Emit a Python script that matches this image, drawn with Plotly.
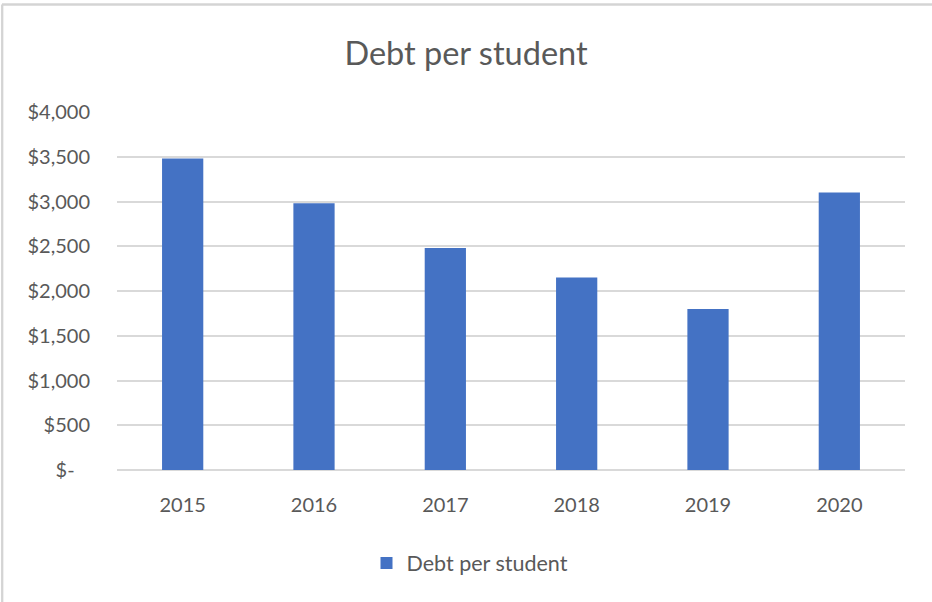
import plotly.graph_objects as go

# Chart data
years = ["2015", "2016", "2017", "2018", "2019", "2020"]
debt_per_student = [3480, 2980, 2480, 2150, 1800, 3100]

# Axis ticks (accounting-style currency labels)
y_tick_values = [0, 500, 1000, 1500, 2000, 2500, 3000, 3500, 4000]
y_tick_labels = ["$-\u00a0\u00a0\u00a0", "$500", "$1,000", "$1,500", "$2,000",
                 "$2,500", "$3,000", "$3,500", "$4,000"]

W, H = 932, 602
M_L, M_R, M_T, M_B = 117, 27, 112, 132
PLOT_W = W - M_L - M_R
PLOT_H = H - M_T - M_B

FONT = "Lato"
TEXT = "#595959"
GRID = "#D9D9D9"
BAR = "#4472C4"


def px_x(px):
    return (px - M_L) / PLOT_W


def px_y(py):
    return (H - M_B - py) / PLOT_H


fig = go.Figure(
    go.Bar(
        x=years,
        y=debt_per_student,
        name="Debt per student",
        marker=dict(color=BAR, line=dict(width=0)),
    )
)

fig.update_layout(
    width=W,
    height=H,
    margin=dict(l=M_L, r=M_R, t=M_T, b=M_B, pad=0),
    paper_bgcolor="white",
    plot_bgcolor="white",
    font=dict(family=FONT, color=TEXT, size=20),
    bargap=0.686,
    title=dict(
        text="Debt per student",
        font=dict(family=FONT, size=32.5, color=TEXT),
        x=0.5, xref="container", xanchor="center",
        y=1 - 54 / H, yref="container", yanchor="middle",
    ),
    showlegend=True,
    legend=dict(
        orientation="h",
        x=0.5 + 4 / W, xref="container", xanchor="center",
        y=1 - 563 / H, yref="container", yanchor="middle",
        font=dict(family=FONT, size=21.5, color=TEXT),
        bgcolor="rgba(0,0,0,0)",
    ),
    xaxis=dict(
        showgrid=False,
        showline=False,
        ticks="",
        tickfont=dict(family=FONT, size=20, color=TEXT),
        ticklabelstandoff=21,
    ),
    yaxis=dict(
        range=[0, 4000],
        tickvals=y_tick_values,
        ticktext=y_tick_labels,
        showgrid=True,
        gridcolor=GRID,
        gridwidth=1.5,
        zeroline=True,
        zerolinecolor=GRID,
        zerolinewidth=1.5,
        showline=False,
        ticks="",
        tickfont=dict(family=FONT, size=20, color=TEXT),
        ticklabelstandoff=26,
    ),
    shapes=[
        # chart-area frame (top and left edges)
        dict(type="line", xref="paper", yref="paper",
             x0=px_x(2), x1=px_x(W + 5), y0=px_y(4.5), y1=px_y(4.5),
             line=dict(color="#D4D4D4", width=2.3), layer="above"),
        dict(type="line", xref="paper", yref="paper",
             x0=px_x(2.2), x1=px_x(2.2), y0=px_y(4.5), y1=px_y(H + 5),
             line=dict(color="#D4D4D4", width=2.3), layer="above"),
    ],
)

fig.write_html("out.html")
